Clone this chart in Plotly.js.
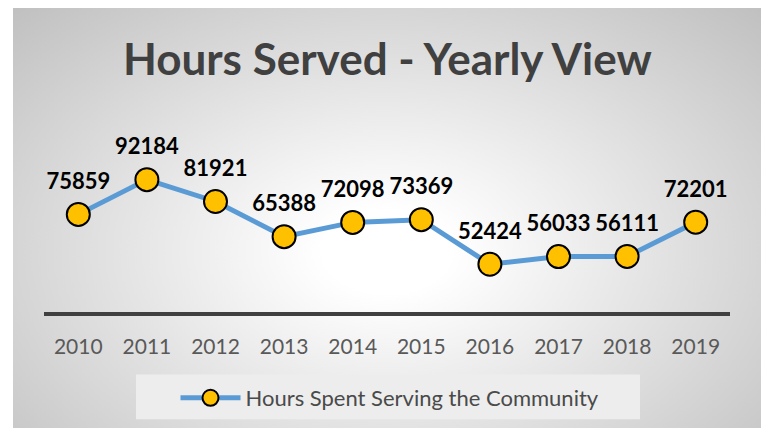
<!DOCTYPE html>
<html>
<head>
<meta charset="utf-8">
<script src="https://cdn.plot.ly/plotly-3.0.1.min.js"></script>
<style>
  html, body { margin: 0; padding: 0; background: #ffffff; }
  #wrap { position: relative; width: 767px; height: 429px; }
  #bg { position: absolute; left: 13px; top: 8px; width: 748px; height: 420px;
        background: radial-gradient(ellipse farthest-corner at 50% 58%, #ffffff 0%, #ffffff 12%, #c0c0c0 100%); }
  #chart { position: absolute; left: 0; top: 0; width: 767px; height: 429px; }
</style>
</head>
<body>
<div id="wrap">
  <div id="bg"></div>
  <div id="chart"></div>
</div>
<script>
const years = ['2010','2011','2012','2013','2014','2015','2016','2017','2018','2019'];
const hours = [75859, 92184, 81921, 65388, 72098, 73369, 52424, 56033, 56111, 72201];
const seriesName = 'Hours Spent Serving the Community';
const chartTitle = 'Hours Served - Yearly View';

const lineTrace = {
  x: years,
  y: hours,
  type: 'scatter',
  mode: 'lines+markers',
  name: seriesName,
  line: { color: '#5B9BD5', width: 5 },
  marker: { color: '#FFC000', size: 23, line: { color: '#000000', width: 2 } },
  cliponaxis: false,
  hoverinfo: 'x+y'
};

const labelTrace = {
  x: years,
  y: hours,
  type: 'scatter',
  mode: 'markers+text',
  showlegend: false,
  text: hours.map(String),
  textposition: 'top center',
  textfont: { family: 'Lato, sans-serif', size: 22, color: '#000000', weight: 'bold' },
  marker: { color: 'rgba(0,0,0,0)', size: 30, line: { width: 0 } },
  cliponaxis: false,
  hoverinfo: 'skip'
};

const W = 767, H = 429, L = 44, R = 37, T = 163, B = 116;
const pw = W - L - R, ph = H - T - B;
const px2x = p => (p - L) / pw;
const py2y = p => (H - B - p) / ph;

const layout = {
  width: W, height: H,
  margin: { l: L, r: R, t: T, b: B, pad: 0 },
  paper_bgcolor: 'rgba(0,0,0,0)',
  plot_bgcolor: 'rgba(0,0,0,0)',
  title: {
    text: '<b>' + chartTitle + '</b>',
    font: { family: 'Lato, sans-serif', size: 44, color: '#404040' },
    x: 0.505, xanchor: 'center', xref: 'container',
    y: 1 - 60 / H, yanchor: 'middle', yref: 'container'
  },
  xaxis: {
    type: 'category',
    range: [-0.5, years.length - 0.5],
    showgrid: false, zeroline: false,
    showline: true, linecolor: '#404040', linewidth: 3.5,
    ticks: '', ticklabelstandoff: 13,
    tickfont: { family: 'Lato, sans-serif', size: 21, color: '#595959' },
    fixedrange: true
  },
  yaxis: {
    range: [30000, 100000],
    showgrid: false, zeroline: false, showline: false,
    showticklabels: false, ticks: '',
    fixedrange: true
  },
  showlegend: true,
  legend: {
    orientation: 'h',
    x: px2x(390), xanchor: 'center',
    y: py2y(398), yanchor: 'middle',
    bgcolor: 'rgba(0,0,0,0)',
    font: { family: 'Lato, sans-serif', size: 22, color: '#4a4a4a' },
    itemwidth: 60
  },
  shapes: [{
    type: 'rect', layer: 'below', xref: 'paper', yref: 'paper',
    x0: px2x(136), x1: px2x(640), y0: py2y(421), y1: py2y(376),
    fillcolor: '#ededed', line: { width: 0 }
  }]
};

Plotly.newPlot('chart', [lineTrace, labelTrace], layout, { displayModeBar: false, staticPlot: true });
</script>
</body>
</html>
